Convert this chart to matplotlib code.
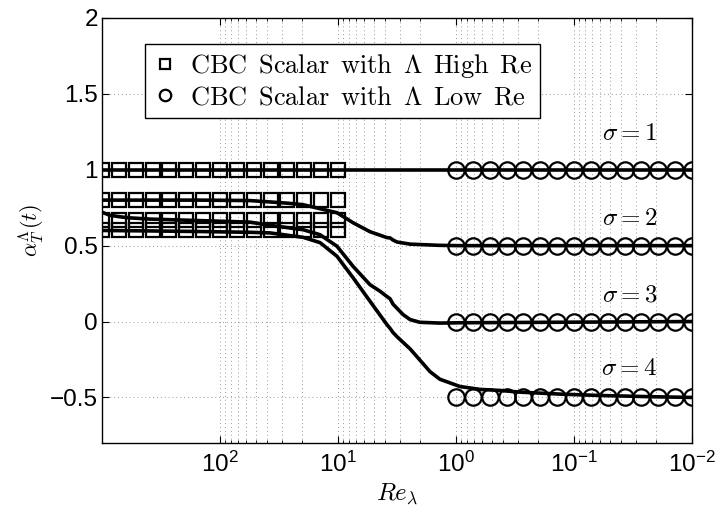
import numpy as np
import matplotlib
matplotlib.use("Agg")
import matplotlib.pyplot as plt
from matplotlib.ticker import FixedLocator, NullFormatter

plt.rcParams.update({
    "font.family": "Liberation Sans",
    "mathtext.fontset": "cm",
    "xtick.direction": "in",
    "ytick.direction": "in",
    "xtick.top": True,
    "ytick.right": True,
})

# marker data (CBC scalar model)
re_high = [1000, 719.7, 517.9, 372.8, 268.3, 193.1, 138.9, 100,
           71.97, 51.79, 37.28, 26.83, 19.31, 13.89, 10]
re_low = [1, 0.7197, 0.5179, 0.3728, 0.2683, 0.1931, 0.1389, 0.1,
          0.07197, 0.05179, 0.03728, 0.02683, 0.01931, 0.01389, 0.01]
high_levels = [1.0, 0.8, 0.667, 0.6]
low_levels = [1.0, 0.5, 0.0, -0.5]

# curves for each sigma
re_s1 = [1000, 0.01]
al_s1 = [1.0, 1.0]

re_s2 = [1000, 147.6, 55.7, 37.7, 27.0, 19.8, 10.2, 7.46, 5.36, 3.85, 3.62,
         3.42, 3.16, 2.45, 1.37, 0.925, 0.01]
al_s2 = [0.80, 0.80, 0.797, 0.788, 0.780, 0.770, 0.717, 0.651, 0.592, 0.553,
         0.551, 0.537, 0.524, 0.510, 0.502, 0.500, 0.500]

re_s3 = [1000, 855, 703, 579, 392, 147.6, 55.7, 37.7, 19.8, 14.2, 10.2, 7.46,
         5.36, 4.41, 3.85, 3.62, 3.42, 2.81, 2.45, 2.02, 1.37, 0.925, 0.01]
al_s3 = [0.72, 0.70, 0.69, 0.683, 0.675, 0.665, 0.655, 0.634, 0.605, 0.572,
         0.496, 0.364, 0.243, 0.200, 0.165, 0.150, 0.115, 0.046, 0.013,
         -0.005, -0.010, -0.008, 0.0]

re_s4 = [1000, 392, 147.6, 55.7, 37.7, 19.8, 14.2, 10.2, 7.46, 5.36, 3.85,
         3.62, 3.42, 3.16, 2.45, 1.66, 1.37, 0.925, 0.627, 0.424, 0.287,
         0.1315, 0.0603, 0.0227, 0.01]
al_s4 = [0.60, 0.597, 0.593, 0.588, 0.584, 0.555, 0.520, 0.430, 0.289, 0.134,
         -0.020, -0.045, -0.072, -0.10, -0.18, -0.33, -0.38, -0.428, -0.447,
         -0.454, -0.465, -0.478, -0.487, -0.495, -0.50]

sigma_labels = [r'$\sigma = 1$', r'$\sigma = 2$', r'$\sigma = 3$', r'$\sigma = 4$']
sigma_label_y = [1.243, 0.684, 0.178, -0.303]

yticks = [-0.5, 0, 0.5, 1, 1.5, 2]
ytick_labels = ['\u22120.5', '0', '0.5', '1', '1.5', '2']
xticks = [1e2, 1e1, 1e0, 1e-1, 1e-2]

sp = r'\ \,'
label_high = r'$\mathrm{CBC' + sp + 'Scalar' + sp + 'with' + sp + r'}\Lambda\mathrm{' + sp + 'High' + sp + 'Re}$'
label_low = r'$\mathrm{CBC' + sp + 'Scalar' + sp + 'with' + sp + r'}\Lambda\mathrm{' + sp + 'Low' + sp + 'Re}$'

fig = plt.figure(figsize=(7.2, 5.09), dpi=100)
ax = fig.add_axes([0.1417, 0.1297, 0.8194, 0.835])

ax.set_xscale('log')
ax.set_xlim(1000, 0.01)
ax.set_ylim(-0.8, 2)

# grid first so markers sit on top
ax.set_xticks(xticks)
minor = [k * 10.0**d for d in range(-2, 2) for k in range(2, 10)]
ax.xaxis.set_minor_locator(FixedLocator(minor))
ax.xaxis.set_minor_formatter(NullFormatter())
ax.set_yticks(yticks)
ax.set_yticklabels(ytick_labels)
ax.grid(True, which='major', color='0.6', linestyle=(0, (1, 3)), linewidth=0.7)
ax.grid(True, which='minor', axis='x', color='0.6', linestyle=(0, (1, 3)), linewidth=0.7)
ax.set_axisbelow(True)

for re, al in [(re_s1, al_s1), (re_s2, al_s2), (re_s3, al_s3), (re_s4, al_s4)]:
    ax.plot(re, al, '-', color='black', linewidth=2.6, zorder=3)

for i, lev in enumerate(high_levels):
    ax.plot(re_high, [lev] * len(re_high), 's', color='black', markerfacecolor='none',
            markersize=10.3, markeredgewidth=1.6, zorder=4,
            label=label_high if i == 0 else None)
for i, lev in enumerate(low_levels):
    ax.plot(re_low, [lev] * len(re_low), 'o', color='black', markerfacecolor='none',
            markersize=11.8, markeredgewidth=1.6, zorder=4,
            label=label_low if i == 0 else None)

for lab, yy in zip(sigma_labels, sigma_label_y):
    ax.text(10**-1.47, yy, lab, fontsize=18, ha='center', va='center')

ax.tick_params(axis='both', which='major', labelsize=17.5, length=5, width=0.8)
ax.tick_params(axis='y', which='major', pad=3)
ax.tick_params(axis='x', which='major', pad=6)
ax.tick_params(axis='x', which='minor', length=2.5, width=0.6)
for s in ax.spines.values():
    s.set_linewidth(1.0)

ax.set_xlabel(r'$Re_\lambda$', fontsize=18, labelpad=4)
ax.set_ylabel(r'$\alpha_T^{\Lambda}(t)$', fontsize=16, labelpad=2)

leg = ax.legend(loc='upper left', bbox_to_anchor=(0.073, 0.939), borderaxespad=0,
                fontsize=19, frameon=True, fancybox=False, edgecolor='black',
                framealpha=1, markerscale=0.7, handlelength=0.9,
                handletextpad=0.5, labelspacing=0.22, borderpad=0.3)
leg.get_frame().set_linewidth(1.0)

fig.savefig('out.png', dpi=100)
